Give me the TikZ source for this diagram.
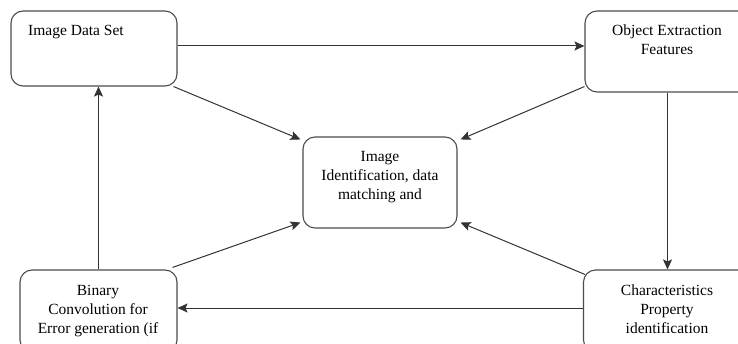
\documentclass[tikz,border=0pt]{standalone}
\usepackage{fontspec}
\setmainfont{Liberation Serif}
\usetikzlibrary{arrows.meta}
\tikzset{
  box/.style={draw=black!70, line width=1.1pt, rounded corners=12pt, fill=white},
  boxtext/.style={font=\rmfamily\fontsize{15.5}{19}\selectfont, align=center, inner sep=0pt},
  arr/.style={draw=black!80, line width=1pt, -{Stealth[length=10pt,width=9pt,inset=2pt]}}
}
\begin{document}
\begin{tikzpicture}[x=1pt,y=-1pt]
        \clip (0,0) rectangle (738,344);
        \fill[white] (0,0) rectangle (738,344);
        % boxes
        \node[box, minimum width=166pt, minimum height=75pt] (data) at (94,48.5) {};
        \node[box, minimum width=165pt, minimum height=81pt] (obj) at (667.5,51.5) {};
        \node[box, minimum width=154pt, minimum height=91pt] (ident) at (380,182.5) {};
        \node[box, minimum width=157pt, minimum height=82pt] (bin) at (98.5,311) {};
        \node[box, minimum width=166pt, minimum height=82pt] (char) at (666.5,311) {};
        % texts
        \node[boxtext, anchor=north west] (datatxt) at (28,25) {Image Data Set};
        \node[boxtext, anchor=north] (objtxt) at (667,25) {Object Extraction\\Features};
        \node[boxtext, anchor=north] (identtxt) at (380,151) {Image\\Identification, data\\matching and};
        \node[boxtext, anchor=north] (bintxt) at (98,285) {Binary\\Convolution for\\Error generation (if};
        \node[boxtext, anchor=north] (chartxt) at (667,285) {Characteristics\\Property\\identification};
        % connectors
        \draw[arr] ([yshift=2.5pt]data.east) -- ([yshift=2.5pt]data.east -| obj.west);
        \draw[arr] ([xshift=-4pt]data.south east) -- ([xshift=-2pt,yshift=-3pt]ident.north west);
        \draw[arr] ([yshift=6pt]obj.south west) -- ([xshift=3pt,yshift=-3pt]ident.north east);
        \draw[arr] (obj.south) -- (obj.south |- char.north);
        \draw[arr] ([yshift=3pt]char.west) -- ([yshift=3pt]char.west -| bin.east);
        \draw[arr] ([xshift=2pt,yshift=-5pt]char.north west) -- ([xshift=3pt,yshift=6pt]ident.south east);
        \draw[arr] ([xshift=-5pt,yshift=2pt]bin.north east) -- ([xshift=-2pt,yshift=6pt]ident.south west);
        \draw[arr] (bin.north) -- (bin.north |- data.south);
\end{tikzpicture}
\end{document}
